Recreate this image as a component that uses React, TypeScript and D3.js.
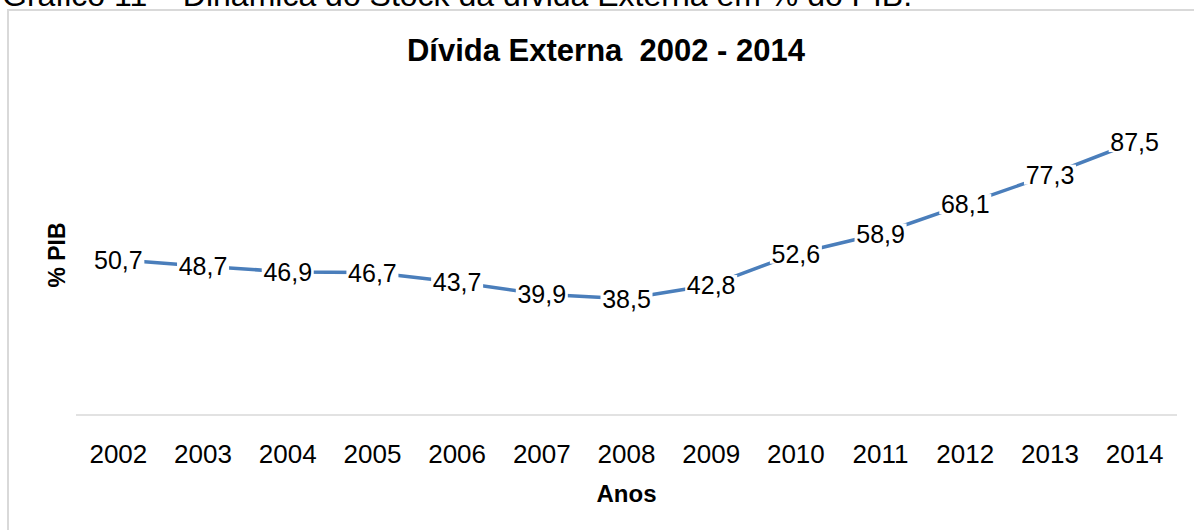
import React from "react";
import * as d3 from "d3";

const years = ["2002","2003","2004","2005","2006","2007","2008","2009","2010","2011","2012","2013","2014"];
const values = [50.7,48.7,46.9,46.7,43.7,39.9,38.5,42.8,52.6,58.9,68.1,77.3,87.5];
const labels = ["50,7","48,7","46,9","46,7","43,7","39,9","38,5","42,8","52,6","58,9","68,1","77,3","87,5"];
const title = "Dívida Externa  2002 - 2014";
const docCaption = "Gráfico 11 – Dinâmica do Stock da dívida Externa em % do PIB.";
const yTitle = "% PIB";
const xTitle = "Anos";

const W = 1194, H = 530;
const FONT = "'Liberation Sans', Arial, sans-serif";

export default function App() {
  const x = d3.scaleBand<string>().domain(years).range([76, 1177]);
  const y = d3.scaleLinear().domain([0, 100]).range([422, 102]);
  const line = d3.line<number>()
    .x((_, i) => (x(years[i]) as number) + x.bandwidth() / 2)
    .y((d) => y(d));

  return (
    <svg width={W} height={H} style={{ position: "absolute", left: 0, top: 0, background: "#fff" }} fontFamily={FONT}>
      <rect x={0} y={0} width={W} height={H} fill="#fff" />
      <text x={2} y={6} fontSize={32} fill="#000" style={{ whiteSpace: "pre" }}>{docCaption}</text>
      <rect x={8} y={10} width={1200} height={530} fill="#fff" stroke="#d9d9d9" strokeWidth={2} />
      <text x={606} y={61} textAnchor="middle" fontSize={31} fontWeight="bold" fill="#000" style={{ whiteSpace: "pre" }}>{title}</text>
      <line x1={76} x2={1177} y1={415} y2={415} stroke="#d9d9d9" strokeWidth={1.5} />
      {years.map((yr) => (
        <text key={yr} x={(x(yr) as number) + x.bandwidth() / 2} y={463} textAnchor="middle" fontSize={26} fill="#000">{yr}</text>
      ))}
      <text x={626.5} y={502} textAnchor="middle" fontSize={24} fontWeight="bold" fill="#000">{xTitle}</text>
      <text transform="translate(65,255) rotate(-90)" textAnchor="middle" fontSize={23} fontWeight="bold" fill="#000">{yTitle}</text>
      <path d={line(values) as string} fill="none" stroke="#4a7ebb" strokeWidth={3.5} strokeLinejoin="round" />
      {values.map((v, i) => {
        const cx = (x(years[i]) as number) + x.bandwidth() / 2;
        const cy = y(v);
        const tw = labels[i].length * 12.5;
        return (
          <g key={i}>
            <rect x={cx - tw / 2 - 1} y={cy - 10} width={tw + 2} height={20} fill="#fff" />
            <text x={cx} y={cy + 9} textAnchor="middle" fontSize={25} fill="#000">{labels[i]}</text>
          </g>
        );
      })}
    </svg>
  );
}
